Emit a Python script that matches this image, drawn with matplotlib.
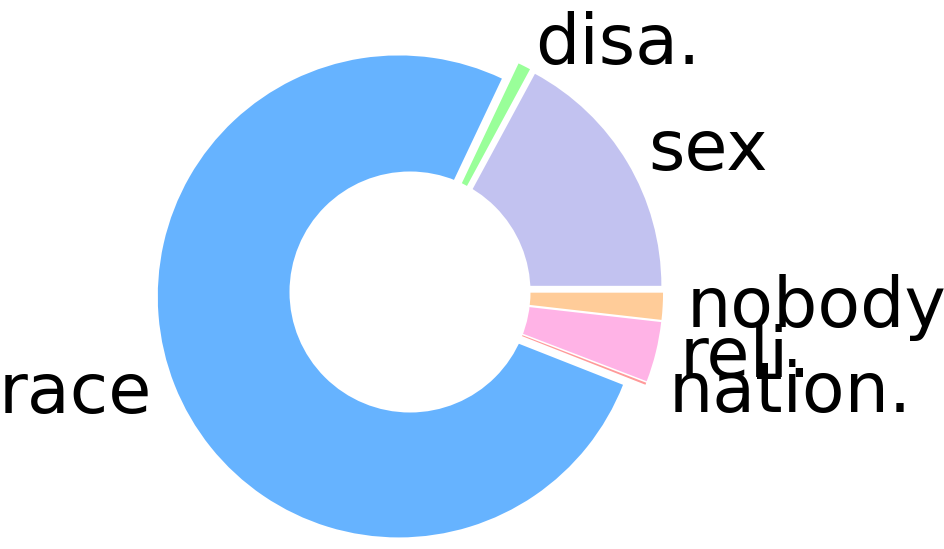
import matplotlib
matplotlib.use("Agg")
import matplotlib.pyplot as plt

labels = ["sex", "disa.", "race", "nation.", "reli.", "nobody"]
values = [17.1, 0.85, 76.0, 0.14, 4.03, 1.8]
colors = ["#c2c2f0", "#99ff99", "#66b3ff", "#ff9999", "#ffb3e6", "#ffcc99"]
explode = [0.05] * len(labels)

W, H, DPI = 945, 549, 100
R_PX = 241.0
CX, CY = 410.0, 292.0

fig = plt.figure(figsize=(W / DPI, H / DPI), dpi=DPI)
ax = fig.add_axes([0, 0, 1, 1])
ax.pie(values, labels=labels, colors=colors, explode=explode, startangle=0,
       counterclock=True, textprops={"fontsize": 50.3}, frame=False)
ax.add_artist(plt.Circle((0, 0), 0.5, fc="white"))
ax.set_xlim(-CX / R_PX, (W - CX) / R_PX)
ax.set_ylim(-(H - CY) / R_PX, CY / R_PX)
ax.set_aspect("auto")
ax.axis("off")
fig.savefig("out.png", dpi=DPI)
